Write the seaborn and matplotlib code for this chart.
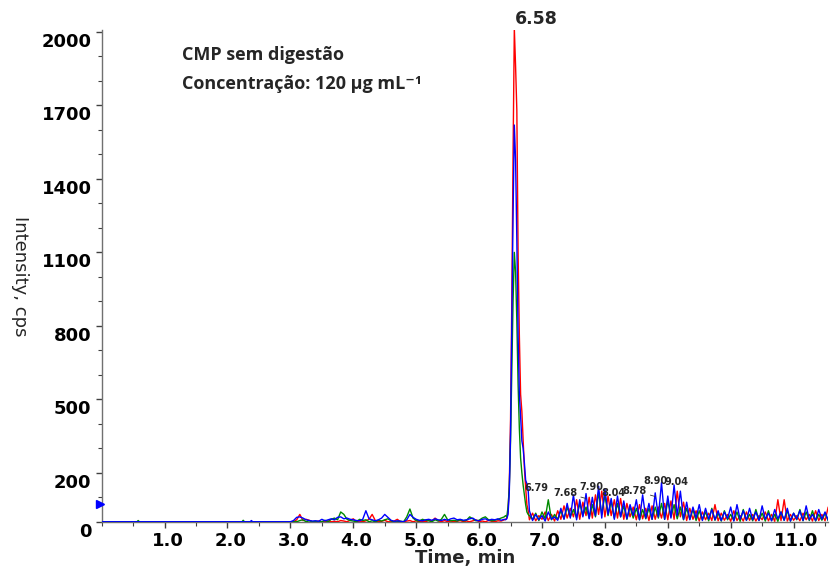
import numpy as np
import pandas as pd
import matplotlib
matplotlib.use("Agg")
import matplotlib.pyplot as plt
import matplotlib.transforms as mtransforms
from matplotlib.ticker import MultipleLocator
import seaborn as sns

# ---------------- data ----------------
trace_names = ["red", "green", "blue"]

# baseline 0 - 3 min
time_a = [0.00, 0.56, 0.58, 0.60, 2.23, 2.25, 2.27, 2.36, 2.38, 2.40, 3.00]
red_a = [0, 0, 0, 0, 0, 0, 0, 0, 0, 0, 0]
green_a = [0, 0, 5, 0, 0, 6, 0, 0, 0, 0, 0]
blue_a = [0, 0, 0, 0, 0, 0, 0, 0, 5, 0, 0]

# low noise 3 - 6.4 min
time_b = [3.05, 3.10, 3.15, 3.20, 3.25, 3.30, 3.35, 3.40, 3.45, 3.50,
          3.55, 3.60, 3.65, 3.70, 3.75, 3.80, 3.85, 3.90, 3.95,
          4.00, 4.05, 4.10, 4.15, 4.20, 4.25, 4.30, 4.35, 4.40, 4.45,
          4.50, 4.55, 4.60, 4.65, 4.70, 4.75, 4.80, 4.85, 4.90, 4.95,
          5.00, 5.05, 5.10, 5.15, 5.20, 5.25, 5.30, 5.35, 5.40, 5.45,
          5.50, 5.55, 5.60, 5.65, 5.70, 5.75, 5.80, 5.85, 5.90, 5.95,
          6.00, 6.05, 6.10, 6.15, 6.20, 6.25, 6.30, 6.35, 6.40]
red_b = [0, 8, 30, 5, 10, 6, 0, 0, 3, 0, 0, 4, 0, 2, 0, 5, 3, 0, 6,
         12, 0, 3, 0, 4, 10, 30, 5, 0, 2, 6, 0, 0, 3, 10, 0, 0, 3, 5, 0,
         4, 0, 2, 0, 6, 3, 15, 4, 0, 5, 0, 3, 0, 2, 5, 0, 3, 0, 4, 8,
         0, 3, 0, 5, 2, 0, 4, 3, 8]
green_b = [0, 0, 5, 8, 0, 4, 0, 2, 0, 0, 6, 0, 10, 15, 8, 40, 30, 10, 5,
           3, 0, 10, 5, 8, 0, 4, 0, 6, 3, 8, 12, 4, 0, 0, 2, 0, 20, 52, 15,
           5, 3, 10, 6, 4, 0, 8, 3, 10, 30, 8, 4, 6, 3, 8, 4, 6, 20, 12, 4,
           6, 15, 20, 8, 4, 6, 10, 15, 20]
blue_b = [5, 18, 20, 15, 8, 5, 3, 4, 2, 10, 4, 8, 12, 8, 18, 20, 12, 15, 10,
          8, 5, 4, 10, 45, 12, 8, 4, 8, 15, 30, 18, 6, 2, 4, 2, 0, 8, 30, 18,
          10, 6, 4, 8, 10, 6, 12, 8, 5, 10, 6, 12, 15, 8, 10, 6, 8, 12, 15, 6,
          4, 10, 12, 6, 10, 8, 12, 6, 10]

# main peak
time_c = [6.42, 6.44, 6.46, 6.48, 6.50, 6.52, 6.54, 6.56, 6.58, 6.60,
          6.62, 6.64, 6.66, 6.68, 6.70, 6.72, 6.74, 6.76, 6.78]
red_c = [10, 15, 40, 150, 420, 900, 1500, 2015, 1860, 1680,
         1100, 760, 520, 450, 330, 220, 140, 70, 45]
green_c = [25, 20, 60, 140, 330, 620, 900, 1100, 1020, 820,
           560, 380, 260, 200, 150, 110, 70, 40, 30]
blue_c = [8, 12, 30, 120, 360, 800, 1250, 1620, 1480, 1150,
          760, 520, 430, 330, 300, 240, 170, 155, 130]

# noisy region after the peak
time_d = [6.80, 6.85, 6.90, 6.95, 7.00, 7.05, 7.10, 7.15, 7.20, 7.25,
          7.30, 7.35, 7.40, 7.45, 7.50, 7.55, 7.60, 7.65, 7.70, 7.75,
          7.80, 7.85, 7.90, 7.95, 8.00, 8.05, 8.10, 8.15, 8.20, 8.25,
          8.30, 8.35, 8.40, 8.45, 8.50, 8.55, 8.60, 8.65, 8.70, 8.75,
          8.80, 8.85, 8.90, 8.95, 9.00, 9.05, 9.10, 9.15, 9.20, 9.25,
          9.30, 9.35, 9.40, 9.45, 9.50, 9.55, 9.60, 9.65, 9.70, 9.75,
          9.80, 9.85, 9.90, 9.95, 10.00, 10.05, 10.10, 10.15, 10.20, 10.25,
          10.30, 10.35, 10.40, 10.45, 10.50, 10.55, 10.60, 10.65, 10.70, 10.75,
          10.80, 10.85, 10.90, 10.95, 11.00, 11.05, 11.10, 11.15, 11.20, 11.25,
          11.30, 11.35, 11.40, 11.45, 11.50, 11.55]
red_d = [8, 35, 4, 25, 10, 40, 5, 30, 3, 45,
         10, 65, 15, 55, 20, 90, 10, 80, 25, 100,
         15, 110, 30, 125, 20, 105, 25, 90, 15, 95,
         10, 75, 20, 60, 8, 70, 12, 55, 5, 65,
         10, 60, 15, 75, 8, 85, 10, 125, 20, 80,
         5, 55, 10, 45, 3, 40, 8, 35, 5, 70,
         4, 35, 6, 30, 2, 45, 5, 25, 3, 40,
         6, 30, 3, 25, 8, 40, 4, 30, 2, 90,
         5, 90, 3, 30, 6, 25, 4, 35, 8, 30,
         3, 45, 5, 30, 4, 60]
green_d = [25, 10, 35, 5, 40, 12, 90, 8, 30, 10,
           45, 12, 60, 20, 50, 15, 75, 25, 60, 15,
           70, 20, 120, 30, 110, 25, 85, 15, 75, 20,
           65, 10, 60, 15, 55, 8, 50, 12, 55, 10,
           60, 15, 75, 10, 85, 20, 70, 12, 60, 8,
           55, 10, 50, 5, 45, 8, 40, 4, 55, 6,
           35, 3, 45, 8, 30, 5, 40, 2, 50, 6,
           30, 4, 50, 6, 35, 3, 45, 5, 30, 2,
           40, 6, 45, 3, 35, 8, 50, 4, 40, 5,
           45, 3, 30, 6, 35, 4]
blue_d = [45, 5, 30, 8, 25, 3, 40, 10, 20, 6,
          55, 10, 75, 15, 110, 8, 90, 20, 115, 12,
          100, 25, 145, 15, 135, 30, 95, 10, 105, 20,
          85, 12, 70, 25, 90, 8, 110, 15, 75, 10,
          118, 20, 160, 10, 105, 15, 150, 25, 125, 10,
          80, 8, 60, 15, 70, 5, 55, 10, 50, 8,
          45, 5, 40, 12, 60, 3, 70, 10, 45, 6,
          55, 8, 40, 5, 65, 10, 35, 4, 50, 12,
          40, 6, 55, 3, 35, 10, 45, 5, 65, 8,
          30, 5, 50, 10, 40, 6]

threshold_level = [73]

main_peak_label = "6.58"
main_peak_time = 6.58
small_peak_labels = ["6.79", "7.68", "7.90", "8.04", "8.78", "8.90", "9.04"]

x_ticks = [1.0, 2.0, 3.0, 4.0, 5.0, 6.0, 7.0, 8.0, 9.0, 10.0, 11.0]
x_tick_labels = ["1.0", "2.0", "3.0", "4.0", "5.0", "6.0", "7.0", "8.0", "9.0", "10.0", "11.0"]
y_ticks = [0, 200, 500, 800, 1100, 1400, 1700, 2000]
y_tick_labels = ["0", "200", "500", "800", "1100", "1400", "1700", "2000"]

# ---------------- layout / style ----------------
trace_colors = {"red": "#ff0000", "green": "#008a00", "blue": "#0000ff"}
# text centres of the small peak labels (data coords) and leader end points
small_label_pos = [(6.905, 139), (7.374, 118), (7.787, 143), (8.129, 118),
                   (8.478, 127), (8.797, 167), (9.138, 163)]
small_label_leader = [None, (7.70, 95), None, None, (8.80, 103), None, None]

sns.set_style("ticks")
plt.rcParams["font.family"] = ["DejaVu Sans"]

time_all = time_a + time_b + time_c + time_d
series = {
    "red": red_a + red_b + red_c + red_d,
    "green": green_a + green_b + green_c + green_d,
    "blue": blue_a + blue_b + blue_c + blue_d,
}
frames = []
for name in trace_names:
    vals = series[name]
    assert len(vals) == len(time_all), (name, len(vals), len(time_all))
    frames.append(pd.DataFrame({"time": time_all, "intensity": vals, "trace": name}))
df = pd.concat(frames, ignore_index=True)

W, H = 830, 574
fig = plt.figure(figsize=(W / 100, H / 100), dpi=100)
ax_left, ax_right, ax_top, ax_bottom = 101.7, 828.0, 30.0, 522.0
ax = fig.add_axes([ax_left / W, (H - ax_bottom) / H,
                   (ax_right - ax_left) / W, (ax_bottom - ax_top) / H])

sns.lineplot(data=df, x="time", y="intensity", hue="trace", hue_order=trace_names,
             palette=trace_colors, estimator=None, sort=False, linewidth=1.0,
             legend=False, ax=ax, zorder=3)

ax.set_xlim(0, 11.547)
ax.set_ylim(-1, 2008)

sns.despine(ax=ax)
for side in ["left", "bottom"]:
    ax.spines[side].set_color("#707070")
    ax.spines[side].set_linewidth(1.0)

ax.set_xticks(x_ticks)
ax.set_xticklabels(x_tick_labels)
ax.xaxis.set_minor_locator(MultipleLocator(0.5))
ax.set_yticks(y_ticks)
ax.set_yticklabels(y_tick_labels)
ax.yaxis.set_minor_locator(MultipleLocator(100))

ax.tick_params(axis="both", which="major", direction="out", length=4, width=1,
               color="#404040", labelsize=13, labelcolor="black")
ax.tick_params(axis="both", which="minor", direction="out", length=3, width=0.8,
               color="#404040")
ax.tick_params(axis="x", which="major", pad=3.5)
ax.tick_params(axis="y", which="major", pad=3.3)

for lbl in ax.get_xticklabels() + ax.get_yticklabels():
    lbl.set_fontweight("bold")

y_off = mtransforms.ScaledTranslation(0, -0.08, fig.dpi_scale_trans)
for t in ax.yaxis.get_major_ticks():
    t.label1.set_transform(t.label1.get_transform() + y_off)
x_off = mtransforms.ScaledTranslation(0.03, 0, fig.dpi_scale_trans)
for t in ax.xaxis.get_major_ticks():
    t.label1.set_transform(t.label1.get_transform() + x_off)

ax.set_xlabel("Time, min", fontsize=13, fontweight="bold", labelpad=-1)
ax.set_ylabel("Intensity, cps", fontsize=13, rotation=-90, va="center")
ax.yaxis.set_label_coords((20 - ax_left) / (ax_right - ax_left), 0.5)

# threshold marker at left axis
ax.plot([-0.03], threshold_level, marker=">", color="#0000ff", markersize=6,
        linestyle="none", clip_on=False, zorder=6)

# peak labels
ax.text(main_peak_time - 0.01, 2053, main_peak_label, fontsize=12.5,
        fontweight="bold", ha="left", va="center", clip_on=False)
for lab, pos, lead in zip(small_peak_labels, small_label_pos, small_label_leader):
    if lead is None:
        ax.text(pos[0], pos[1], lab, fontsize=7, fontweight="bold",
                ha="center", va="center", zorder=7)
    else:
        ax.annotate(lab, xy=lead, xytext=pos, textcoords="data",
                    fontsize=7, fontweight="bold", ha="center", va="center",
                    zorder=7,
                    arrowprops=dict(arrowstyle="-", lw=0.6, color="#333333",
                                    shrinkA=0, shrinkB=0))

# sample annotation
ann_font = ["Open Sans", "DejaVu Sans"]
ax.text((182 - ax_left) / (ax_right - ax_left), (ax_bottom - 60) / (ax_bottom - ax_top),
        "CMP sem digestão", transform=ax.transAxes, fontsize=13,
        family=ann_font, fontweight="bold", ha="left", va="baseline")
ax.text((182 - ax_left) / (ax_right - ax_left), (ax_bottom - 89) / (ax_bottom - ax_top),
        "Concentração: 120 µg mL⁻¹", transform=ax.transAxes, fontsize=13,
        family=ann_font, fontweight="bold", ha="left", va="baseline")

fig.savefig("out.png", dpi=100)
